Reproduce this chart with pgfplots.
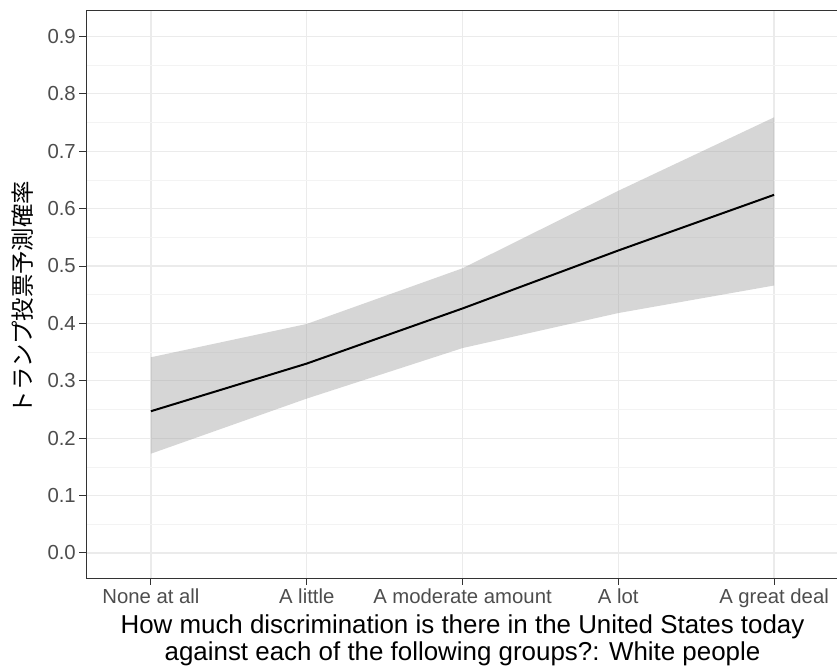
\documentclass[border=0pt]{standalone}
\usepackage{fontspec}
\setmainfont{Liberation Sans}
\newfontfamily\jp{Noto Sans CJK JP}
\usepackage{pgfplots}
\pgfplotsset{compat=1.18}
\usepackage{pgfplotstable}
\definecolor{gridc}{HTML}{EBEBEB}
\definecolor{tickc}{HTML}{4D4D4D}
\definecolor{borderc}{HTML}{333333}
\pgfplotstableread{
x  fit
1  0.247
2  0.330
3  0.426
4  0.527
5  0.624
}\fit
% confidence band polygon: upper bound left to right, then lower bound right to left
\pgfplotstableread{
x  y
1  0.341
2  0.399
3  0.496
4  0.631
5  0.759
5  0.466
4  0.418
3  0.357
2  0.269
1  0.173
}\band
\begin{document}
\begin{tikzpicture}
\begin{axis}[
  name=ax,
  at={(86bp,88bp)}, anchor=south west,
  scale only axis, width=753bp, height=567bp,
  xmin=0.583, xmax=5.417,
  ymin=-0.0436, ymax=0.9443,
  xtick={1,2,3,4,5},
  xticklabels={None at all,A little,A moderate amount,A lot,A great deal},
  ytick={0,0.1,...,0.9},
  minor ytick={0.05,0.15,...,0.85},
  yticklabel style={/pgf/number format/fixed,/pgf/number format/fixed zerofill,/pgf/number format/precision=1},
  /pgf/number format/assume math mode=true,
  ticklabel style={font=\fontsize{20.4}{24}\selectfont, text=tickc},
  xticklabel style={yshift=-1bp},
  grid=both,
  major grid style={draw=gridc, line width=1.3bp},
  minor grid style={draw=gridc!60, line width=0.7bp},
  axis line style={draw=borderc, line width=1bp},
  tick style={draw=borderc, line width=1bp},
  tick align=outside,
  major tick length=6.7bp,
  minor tick length=0pt,
  xtick pos=bottom, ytick pos=left,
]
\addplot[draw=none, fill=black!40, fill opacity=0.4] table[x=x, y=y] {\band} -- cycle;
\addplot[black, line width=2bp] table[x=x, y=fit] {\fit};
\end{axis}
\node[anchor=base, font=\fontsize{26}{31}\selectfont] at ([yshift=-55.3bp]ax.south) {How much discrimination is there in the United States today};
\node[anchor=base, font=\fontsize{26}{31}\selectfont] at ([yshift=-82bp]ax.south) {against each of the following groups?: White people};
\node[rotate=90, font=\jp\fontsize{23.5}{28}\selectfont, inner sep=0pt] at ([xshift=-63bp,yshift=-3bp]ax.west) {トランプ投票予測確率};
\pgfresetboundingbox
\useasboundingbox (0,0) rectangle (837bp,666bp);
\end{tikzpicture}
\end{document}
